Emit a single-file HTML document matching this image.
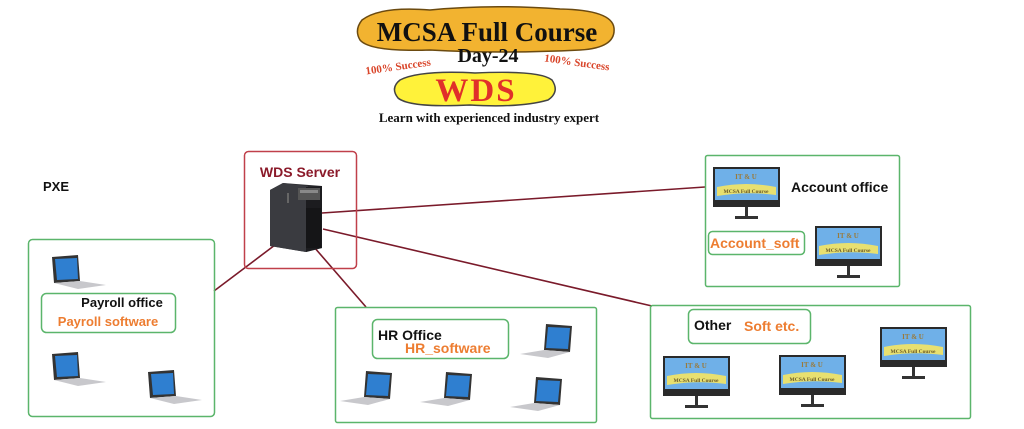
<!DOCTYPE html>
<html><head><meta charset="utf-8"><style>
html,body{margin:0;padding:0;background:#fff;}
svg{display:block;font-family:"Liberation Sans",sans-serif;}
.b{font-weight:bold;}
</style></head><body>
<svg width="1024" height="429" viewBox="0 0 1024 429" xmlns="http://www.w3.org/2000/svg">
<!-- Title -->
<path d="M362,20 Q380,6 430,10 Q490,4 560,9 Q612,10 614,28 Q616,48 580,50 Q500,54 430,50 Q370,52 360,40 Q354,30 362,20Z" fill="#f2b330" stroke="#6b4a10" stroke-width="1.5"/>
<text x="487" y="41" text-anchor="middle" font-family="Liberation Serif,serif" font-weight="bold" font-size="27" fill="#111">MCSA Full Course</text>
<text x="488" y="62" text-anchor="middle" font-family="Liberation Serif,serif" font-weight="bold" font-size="20" fill="#111">Day-24</text>
<text x="398" y="70" text-anchor="middle" font-family="Liberation Serif,serif" font-weight="bold" font-size="11" fill="#d9452a" transform="rotate(-8 398 66)">100% Success</text>
<text x="577" y="66" text-anchor="middle" font-family="Liberation Serif,serif" font-weight="bold" font-size="11" fill="#d9452a" transform="rotate(8 577 62)">100% Success</text>
<path d="M400,80 Q420,70 475,73 Q540,70 552,80 Q560,92 548,100 Q520,108 470,105 Q410,108 398,98 Q390,88 400,80Z" fill="#fff23a" stroke="#444" stroke-width="1.5"/>
<text x="476" y="101" text-anchor="middle" font-family="Liberation Serif,serif" font-weight="bold" font-size="33" fill="#e0302a" letter-spacing="2">WDS</text>
<text x="489" y="122" text-anchor="middle" font-family="Liberation Serif,serif" font-weight="bold" font-size="13" fill="#111">Learn with experienced industry expert</text>

<text x="43" y="191" class="b" font-size="13" fill="#111">PXE</text>

<!-- connectors -->
<g stroke="#7a1a2a" stroke-width="1.6" fill="none">
<line x1="322" y1="213" x2="705" y2="187"/>
<line x1="323" y1="229" x2="652" y2="306"/>
<line x1="314" y1="247" x2="366" y2="307"/>
<line x1="275" y1="245" x2="214" y2="291"/>
</g>

<!-- WDS server box -->
<rect x="244.5" y="151.5" width="112" height="117" rx="4" fill="none" stroke="#c0404a" stroke-width="1.5"/>
<text x="300" y="177" text-anchor="middle" class="b" font-size="14" fill="#8b1a2a">WDS Server</text>
<g>
<polygon points="270,190 283,183 322,186 322,248 306,252 270,246" fill="#2a2a2e"/>
<polygon points="270,190 283,183 308,186 306,252 270,246" fill="#3a3b40"/>
<polygon points="306,187 322,186 322,248 306,252" fill="#1c1c1f"/>
<rect x="298" y="188" width="22" height="12" fill="#555"/>
<rect x="300" y="190" width="18" height="3" fill="#888"/>
<rect x="306" y="208" width="15" height="40" fill="#151517"/>
<rect x="287" y="193" width="2" height="10" fill="#666"/>
</g>

<!-- Payroll -->
<rect x="28.5" y="239.5" width="186" height="177" rx="4" fill="none" stroke="#5bb56b" stroke-width="1.5"/>
<rect x="41.5" y="293.5" width="134" height="39" rx="5" fill="none" stroke="#5bb56b" stroke-width="1.5"/>
<text x="122" y="307" text-anchor="middle" class="b" font-size="13" fill="#111">Payroll office</text>
<text x="108" y="326" text-anchor="middle" class="b" font-size="13" fill="#ed7d31">Payroll software</text>

<!-- HR -->
<rect x="335.5" y="307.5" width="261" height="115" rx="2" fill="none" stroke="#5bb56b" stroke-width="1.5"/>
<rect x="372.5" y="319.5" width="136" height="39" rx="5" fill="none" stroke="#5bb56b" stroke-width="1.5"/>
<text x="378" y="340" class="b" font-size="14" fill="#111">HR Office</text>
<text x="405" y="353" class="b" font-size="14" fill="#ed7d31">HR_software</text>

<!-- Account -->
<rect x="705.5" y="155.5" width="194" height="131" rx="2" fill="none" stroke="#5bb56b" stroke-width="1.5"/>
<text x="791" y="192" class="b" font-size="14" fill="#111">Account office</text>
<rect x="708.5" y="231.5" width="96" height="23" rx="4" fill="none" stroke="#5bb56b" stroke-width="1.5"/>
<text x="710" y="248" class="b" font-size="14" fill="#ed7d31">Account_soft</text>

<!-- Other -->
<rect x="650.5" y="305.5" width="320" height="113" rx="2" fill="none" stroke="#5bb56b" stroke-width="1.5"/>
<rect x="688.5" y="309.5" width="122" height="34" rx="5" fill="none" stroke="#5bb56b" stroke-width="1.5"/>
<text x="694" y="330" class="b" font-size="14" fill="#111">Other</text>
<text x="744" y="331" class="b" font-size="14" fill="#ed7d31">Soft etc.</text>

<!-- Monitors -->
<g id="m1" transform="translate(713,167)">
<rect x="0" y="0" width="67" height="40" fill="#2a2a2a"/><rect x="2" y="2" width="63" height="31" fill="#6fb0e8"/>
<text x="33" y="12" text-anchor="middle" font-family="Liberation Serif,serif" font-weight="bold" font-size="7" fill="#9a7a3a">IT &amp; U</text>
<path d="M4,20 Q33,14 63,20 L63,28 Q33,24 4,29Z" fill="#e8e070"/>
<text x="33" y="26" text-anchor="middle" font-family="Liberation Serif,serif" font-weight="bold" font-size="5.5" fill="#6a5a2a">MCSA Full Course</text>
<rect x="32" y="40" width="3" height="9" fill="#333"/><rect x="22" y="49" width="23" height="3" fill="#333"/>
</g>
<g transform="translate(815,226)">
<rect x="0" y="0" width="67" height="40" fill="#2a2a2a"/><rect x="2" y="2" width="63" height="31" fill="#6fb0e8"/>
<text x="33" y="12" text-anchor="middle" font-family="Liberation Serif,serif" font-weight="bold" font-size="7" fill="#9a7a3a">IT &amp; U</text>
<path d="M4,20 Q33,14 63,20 L63,28 Q33,24 4,29Z" fill="#e8e070"/>
<text x="33" y="26" text-anchor="middle" font-family="Liberation Serif,serif" font-weight="bold" font-size="5.5" fill="#6a5a2a">MCSA Full Course</text>
<rect x="32" y="40" width="3" height="9" fill="#333"/><rect x="22" y="49" width="23" height="3" fill="#333"/>
</g>
<g transform="translate(663,356)">
<rect x="0" y="0" width="67" height="40" fill="#2a2a2a"/><rect x="2" y="2" width="63" height="31" fill="#6fb0e8"/>
<text x="33" y="12" text-anchor="middle" font-family="Liberation Serif,serif" font-weight="bold" font-size="7" fill="#9a7a3a">IT &amp; U</text>
<path d="M4,20 Q33,14 63,20 L63,28 Q33,24 4,29Z" fill="#e8e070"/>
<text x="33" y="26" text-anchor="middle" font-family="Liberation Serif,serif" font-weight="bold" font-size="5.5" fill="#6a5a2a">MCSA Full Course</text>
<rect x="32" y="40" width="3" height="9" fill="#333"/><rect x="22" y="49" width="23" height="3" fill="#333"/>
</g>
<g transform="translate(779,355)">
<rect x="0" y="0" width="67" height="40" fill="#2a2a2a"/><rect x="2" y="2" width="63" height="31" fill="#6fb0e8"/>
<text x="33" y="12" text-anchor="middle" font-family="Liberation Serif,serif" font-weight="bold" font-size="7" fill="#9a7a3a">IT &amp; U</text>
<path d="M4,20 Q33,14 63,20 L63,28 Q33,24 4,29Z" fill="#e8e070"/>
<text x="33" y="26" text-anchor="middle" font-family="Liberation Serif,serif" font-weight="bold" font-size="5.5" fill="#6a5a2a">MCSA Full Course</text>
<rect x="32" y="40" width="3" height="9" fill="#333"/><rect x="22" y="49" width="23" height="3" fill="#333"/>
</g>
<g transform="translate(880,327)">
<rect x="0" y="0" width="67" height="40" fill="#2a2a2a"/><rect x="2" y="2" width="63" height="31" fill="#6fb0e8"/>
<text x="33" y="12" text-anchor="middle" font-family="Liberation Serif,serif" font-weight="bold" font-size="7" fill="#9a7a3a">IT &amp; U</text>
<path d="M4,20 Q33,14 63,20 L63,28 Q33,24 4,29Z" fill="#e8e070"/>
<text x="33" y="26" text-anchor="middle" font-family="Liberation Serif,serif" font-weight="bold" font-size="5.5" fill="#6a5a2a">MCSA Full Course</text>
<rect x="32" y="40" width="3" height="9" fill="#333"/><rect x="22" y="49" width="23" height="3" fill="#333"/>
</g>

<!-- Laptops -->
<g transform="translate(50,255)"><polygon points="2,2 28,0 30,26 4,28" fill="#333"/><polygon points="5,4 27,3 28,24 7,25" fill="#2f7fd0"/><polygon points="4,28 30,26 56,30 28,34" fill="#c8c8cc"/></g>
<g transform="translate(50,352)"><polygon points="2,2 28,0 30,26 4,28" fill="#333"/><polygon points="5,4 27,3 28,24 7,25" fill="#2f7fd0"/><polygon points="4,28 30,26 56,30 28,34" fill="#c8c8cc"/></g>
<g transform="translate(146,370)"><polygon points="2,2 28,0 30,26 4,28" fill="#333"/><polygon points="5,4 27,3 28,24 7,25" fill="#2f7fd0"/><polygon points="4,28 30,26 56,30 28,34" fill="#c8c8cc"/></g>
<g transform="translate(520,324)"><polygon points="26,0 52,2 50,28 24,26" fill="#333"/><polygon points="28,3 50,4 48,25 26,24" fill="#2f7fd0"/><polygon points="24,26 50,28 28,34 0,30" fill="#c8c8cc"/></g>
<g transform="translate(340,371)"><polygon points="26,0 52,2 50,28 24,26" fill="#333"/><polygon points="28,3 50,4 48,25 26,24" fill="#2f7fd0"/><polygon points="24,26 50,28 28,34 0,30" fill="#c8c8cc"/></g>
<g transform="translate(420,372)"><polygon points="26,0 52,2 50,28 24,26" fill="#333"/><polygon points="28,3 50,4 48,25 26,24" fill="#2f7fd0"/><polygon points="24,26 50,28 28,34 0,30" fill="#c8c8cc"/></g>
<g transform="translate(510,377)"><polygon points="26,0 52,2 50,28 24,26" fill="#333"/><polygon points="28,3 50,4 48,25 26,24" fill="#2f7fd0"/><polygon points="24,26 50,28 28,34 0,30" fill="#c8c8cc"/></g>
</svg>
</body></html>
